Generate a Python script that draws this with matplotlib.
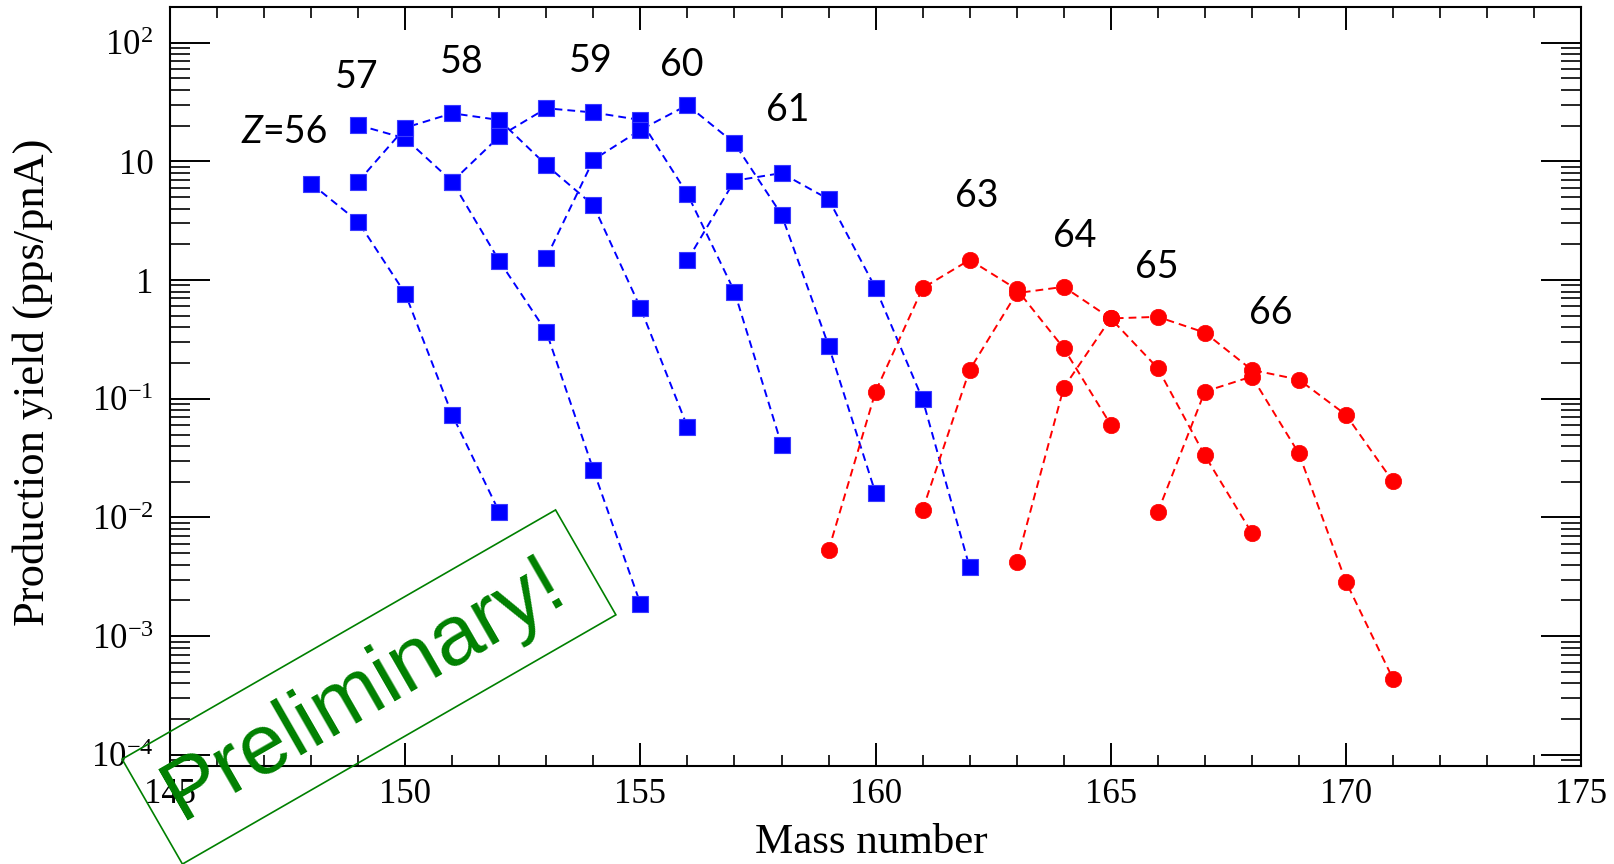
import numpy as np
import matplotlib
matplotlib.use("Agg")
import matplotlib.pyplot as plt
from matplotlib.ticker import FixedLocator, LogLocator, NullFormatter, MultipleLocator
from matplotlib.patches import Polygon

# ---------------- data ----------------
z56_mass = [148, 149, 150, 151, 152]
z56_yield = [6.5, 3.1, 0.77, 0.073, 0.0111]

z57_mass = [149, 150, 151, 152, 153, 154, 155]
z57_yield = [20.2, 15.6, 6.75, 1.45, 0.367, 0.0252, 0.00188]

z58_mass = [149, 150, 151, 152, 153, 154, 155, 156]
z58_yield = [6.75, 19.2, 25.4, 22.3, 9.3, 4.26, 0.585, 0.058]

z59_mass = [151, 152, 153, 154, 155, 156, 157, 158]
z59_yield = [6.75, 16.2, 28.0, 25.8, 22.3, 5.3, 0.80, 0.041]

z60_mass = [153, 154, 155, 156, 157, 158, 159, 160]
z60_yield = [1.54, 10.3, 18.4, 29.8, 14.2, 3.56, 0.281, 0.016]

z61_mass = [156, 157, 158, 159, 160, 161, 162]
z61_yield = [1.47, 6.87, 7.96, 4.8, 0.855, 0.099, 0.0038]

z63_mass = [159, 160, 161, 162, 163, 164, 165]
z63_yield = [0.0053, 0.115, 0.855, 1.48, 0.837, 0.267, 0.0605]

z64_mass = [161, 162, 163, 164, 165, 166, 167, 168]
z64_yield = [0.0116, 0.175, 0.776, 0.877, 0.475, 0.181, 0.0333, 0.0074]

z65_mass = [163, 164, 165, 166, 167, 168, 169, 170, 171]
z65_yield = [0.0042, 0.124, 0.475, 0.49, 0.361, 0.175, 0.145, 0.0733, 0.0201]

z66_mass = [166, 167, 168, 169, 170, 171]
z66_yield = [0.0111, 0.115, 0.154, 0.0346, 0.00288, 0.000438]

blue_series = [(z56_mass, z56_yield), (z57_mass, z57_yield), (z58_mass, z58_yield),
               (z59_mass, z59_yield), (z60_mass, z60_yield), (z61_mass, z61_yield)]
red_series = [(z63_mass, z63_yield), (z64_mass, z64_yield),
              (z65_mass, z65_yield), (z66_mass, z66_yield)]

z_labels = ["57", "58", "59", "60", "61", "63", "64", "65", "66"]
z_label_x = [148.97, 151.2, 153.94, 155.88, 158.13, 162.15, 164.24, 165.98, 168.41]
z_label_y = [51.7, 69.0, 70.0, 64.6, 27.0, 5.06, 2.33, 1.28, 0.525]

ytick_values = [1e-4, 1e-3, 1e-2, 1e-1, 1, 10, 100]
ytick_labels = [r"$\mathregular{10^{-4}}$", r"$\mathregular{10^{-3}}$", r"$\mathregular{10^{-2}}$",
                r"$\mathregular{10^{-1}}$", "1", "10", r"$\mathregular{10^{2}}$"]
xtick_values = [145, 150, 155, 160, 165, 170, 175]

# ---------------- figure ----------------
plt.rcParams["font.family"] = ["Liberation Serif", "DejaVu Serif"]
fig = plt.figure(figsize=(16.15, 8.64), dpi=100)
ax = fig.add_axes([0.1053, 0.1139, 0.979 - 0.1053, 0.9916 - 0.1139])

dash = (0, (4.0, 2.6))
for m, y in blue_series:
    ax.plot(m, y, color="#0000ff", lw=1.4, linestyle=dash, marker="s",
            ms=11.3, mfc="#0000ff", mec="#3a3aff", mew=0.8, zorder=3)
for m, y in red_series:
    ax.plot(m, y, color="#ff0000", lw=1.4, linestyle=dash, marker="o",
            ms=11.8, mfc="#ff0000", mec="#ff0000", mew=0.5, zorder=3)

ax.set_xlim(145, 175)
ax.set_yscale("log")
ax.set_ylim(8.13e-5, 198.6)

ax.yaxis.set_major_locator(FixedLocator(ytick_values))
ax.set_yticklabels(ytick_labels)
ax.yaxis.set_minor_locator(LogLocator(base=10, subs=np.arange(2, 10), numticks=20))
ax.yaxis.set_minor_formatter(NullFormatter())
ax.xaxis.set_major_locator(FixedLocator(xtick_values))
ax.xaxis.set_minor_locator(MultipleLocator(1))

ax.tick_params(which="both", direction="in", top=True, right=True, colors="black")
ax.tick_params(axis="y", which="major", length=28.8, width=1.4, pad=12, labelsize=25)
ax.tick_params(axis="y", which="minor", length=14.4, width=1.2)
ax.tick_params(axis="x", which="major", length=16.5, width=1.4, pad=9, labelsize=25)
ax.tick_params(axis="x", which="minor", length=8.0, width=1.2)
for s in ax.spines.values():
    s.set_linewidth(1.5)

ax.set_xlabel("Mass number", fontsize=31, va="center")
ax.xaxis.set_label_coords(0.497, -0.102)
ax.set_ylabel("Production yield (pps/pnA)", fontsize=32, va="center")
ax.yaxis.set_label_coords(-0.0978, 0.505)

# Z labels
lab_font = dict(family=["Lato", "DejaVu Sans"], fontsize=27, color="black")
for t, x, y in zip(z_labels, z_label_x, z_label_y):
    ax.text(x, y, t, ha="center", va="center", **lab_font)
ax.text(146.97, 17.8, "Z", ha="right", va="center", style="italic", **lab_font)
ax.text(146.97, 17.8, "=56", ha="left", va="center", **lab_font)

# "Preliminary!" stamp (figure pixel coordinates)
W, H = fig.get_size_inches() * fig.dpi
cx, cy = 369.0, 177.0
L, Wd = 500.0, 121.0
ang = np.deg2rad(29.9)
u = np.array([np.cos(ang), np.sin(ang)])
v = np.array([-np.sin(ang), np.cos(ang)])
c = np.array([cx, cy])
corners = [c - u * L / 2 + v * Wd / 2, c + u * L / 2 + v * Wd / 2,
           c + u * L / 2 - v * Wd / 2, c - u * L / 2 - v * Wd / 2]
corners = [(p[0] / W, p[1] / H) for p in corners]
fig.patches.append(Polygon(corners, closed=True, fill=False, edgecolor="#008000",
                           linewidth=1.2, transform=fig.transFigure, zorder=10))
fig.text(364.0 / W, 174.0 / H, "Preliminary!", rotation=29.9, rotation_mode="anchor",
         ha="center", va="center", color="#008000", fontsize=61,
         family=["Liberation Sans", "DejaVu Sans"], zorder=11)

fig.savefig("out.png", dpi=100)
